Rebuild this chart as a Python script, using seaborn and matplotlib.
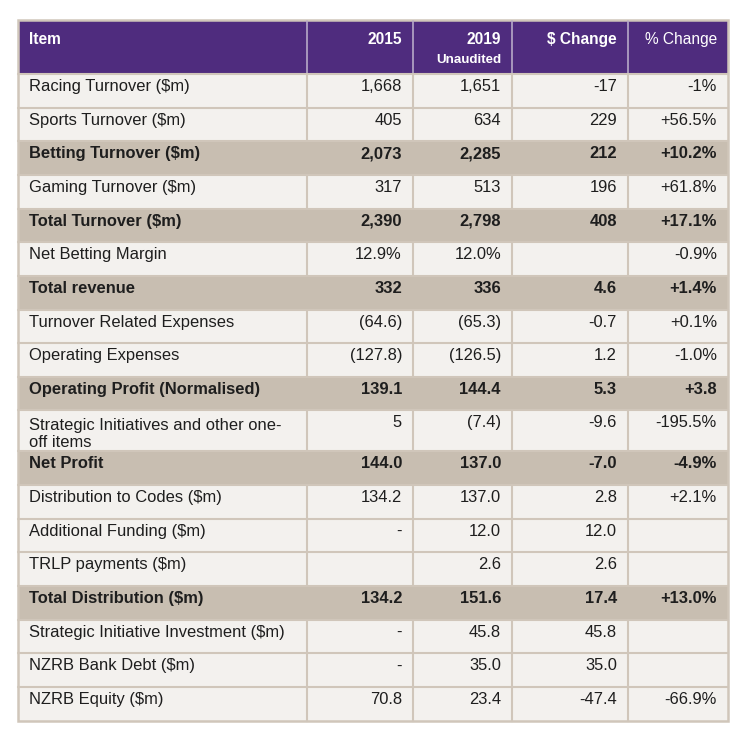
import numpy as np
import pandas as pd
import seaborn as sns
import matplotlib.pyplot as plt
from matplotlib.patches import Rectangle

# table contents
header = ["Item", "2015", "2019", "$ Change", "% Change"]
items = [
    "Racing Turnover ($m)", "Sports Turnover ($m)", "Betting Turnover ($m)",
    "Gaming Turnover ($m)", "Total Turnover ($m)", "Net Betting Margin",
    "Total revenue", "Turnover Related Expenses", "Operating Expenses",
    "Operating Profit (Normalised)", "Strategic Initiatives and other one-\noff items",
    "Net Profit", "Distribution to Codes ($m)", "Additional Funding ($m)",
    "TRLP payments ($m)", "Total Distribution ($m)",
    "Strategic Initiative Investment ($m)", "NZRB Bank Debt ($m)", "NZRB Equity ($m)",
]
v2015 = ["1,668", "405", "2,073", "317", "2,390", "12.9%", "332", "(64.6)", "(127.8)",
         "139.1", "5", "144.0", "134.2", "-", "", "134.2", "-", "-", "70.8"]
v2019 = ["1,651", "634", "2,285", "513", "2,798", "12.0%", "336", "(65.3)", "(126.5)",
         "144.4", "(7.4)", "137.0", "137.0", "12.0", "2.6", "151.6", "45.8", "35.0", "23.4"]
change_abs = ["-17", "229", "212", "196", "408", "", "4.6", "-0.7", "1.2",
              "5.3", "-9.6", "-7.0", "2.8", "12.0", "2.6", "17.4", "45.8", "35.0", "-47.4"]
change_pct = ["-1%", "+56.5%", "+10.2%", "+61.8%", "+17.1%", "-0.9%", "+1.4%", "+0.1%", "-1.0%",
              "+3.8", "-195.5%", "-4.9%", "+2.1%", "", "", "+13.0%", "", "", "-66.9%"]
total_rows = ["Betting Turnover ($m)", "Total Turnover ($m)", "Total revenue",
              "Operating Profit (Normalised)", "Net Profit", "Total Distribution ($m)"]

df = pd.DataFrame({"Item": items, "2015": v2015, "2019": v2019,
                   "$ Change": change_abs, "% Change": change_pct})

sns.set_theme(style="white")
plt.rcParams["font.family"] = ["Liberation Sans", "DejaVu Sans"]

purple = "#4f2c7e"
tan = "#c8beb1"
light = "#f3f1ee"
line_c = "#d0c6ba"
text_c = "#1e1e1e"

fig = plt.figure(figsize=(7.45, 7.36), dpi=100)
ax = fig.add_axes([0, 0, 1, 1])
ax.set_xlim(0, 745)
ax.set_ylim(736, 0)
ax.axis("off")

col_edges = [18, 307, 413, 512, 628, 728]
head_top, head_bot = 21, 74
row_h = [41 if "\n" in s else 33.65 for s in df["Item"]]
row_tops = head_bot + np.concatenate([[0], np.cumsum(row_h)[:-1]])
table_bot = row_tops[-1] + row_h[-1]

# header
ax.add_patch(Rectangle((col_edges[0], head_top), col_edges[-1] - col_edges[0],
                       head_bot - head_top, facecolor=purple, edgecolor="none"))
for j, h in enumerate(header):
    if j == 0:
        x, ha = col_edges[0] + 11, "left"
    else:
        x, ha = col_edges[j + 1] - 11, "right"
    ax.text(x, head_top + 23, h, ha=ha, va="baseline", color="white",
            fontsize=11.2, fontweight="normal" if h == "% Change" else "bold")
ax.text(col_edges[3] - 11, head_top + 42, "Unaudited", ha="right", va="baseline",
        color="white", fontsize=9.6, fontweight="bold")
for x in col_edges[1:-1]:
    ax.plot([x, x], [head_top, head_bot], color="#b7a9c8", lw=1.2)

# body rows
for i, row in df.iterrows():
    top, h = row_tops[i], row_h[i]
    bold = row["Item"] in total_rows
    ax.add_patch(Rectangle((col_edges[0], top), col_edges[-1] - col_edges[0], h,
                           facecolor=tan if bold else light, edgecolor="none"))
    if not bold:
        for x in col_edges[1:-1]:
            ax.plot([x, x], [top, top + h], color=line_c, lw=1.5)
    ax.plot([col_edges[0], col_edges[-1]], [top, top], color=line_c, lw=1.5)
    fw = "bold" if bold else "normal"
    n_lines = row["Item"].count("\n")
    ax.text(col_edges[0] + 11, top + 17 + 20 * n_lines, row["Item"], ha="left", va="baseline",
            color=text_c, fontsize=11.9, fontweight=fw, linespacing=1.2)
    for j, col in enumerate(header[1:]):
        ax.text(col_edges[j + 2] - 11, top + 17, row[col], ha="right", va="baseline",
                color=text_c, fontsize=11.9, fontweight=fw)

# outer border
ax.add_patch(Rectangle((col_edges[0], head_top - 1), col_edges[-1] - col_edges[0],
                       table_bot - head_top + 1, facecolor="none", edgecolor=line_c, lw=1.8))

fig.savefig("out.png", dpi=100, facecolor="white")
